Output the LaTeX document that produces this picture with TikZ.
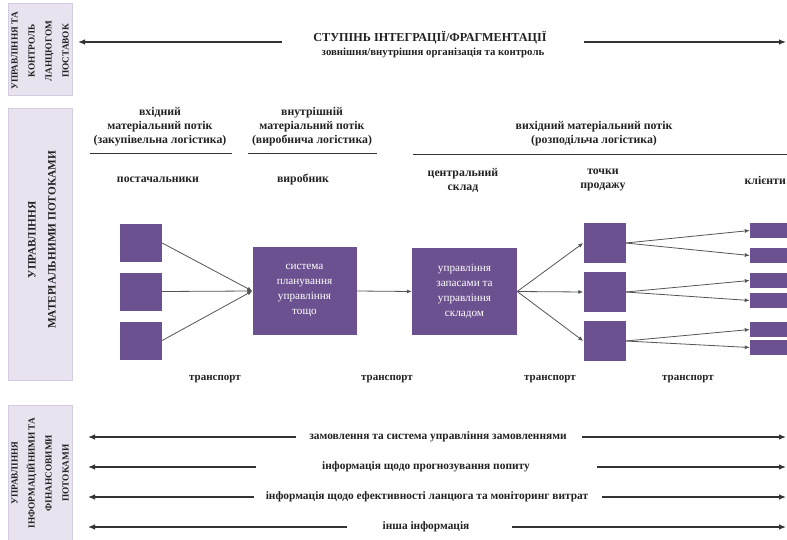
\documentclass[tikz,border=0pt]{standalone}
\usepackage{fontspec}
\setmainfont{Liberation Serif}
\usetikzlibrary{arrows.meta}
\definecolor{bandfill}{HTML}{E9E3F0}
\definecolor{banddraw}{HTML}{D6CCE2}
\definecolor{boxfill}{HTML}{6C5190}
\definecolor{txt}{HTML}{222222}
\definecolor{ln}{HTML}{333333}
\definecolor{cn}{HTML}{555555}
\tikzset{
  band/.style={fill=bandfill,draw=banddraw,line width=0.6pt},
  bandtxt/.style={rotate=90,align=center,text=txt,font=\bfseries\fontsize{9.3}{17}\selectfont,inner sep=0pt},
  lbl/.style={align=center,text=txt,font=\bfseries\fontsize{11.8}{14}\selectfont,inner sep=0pt},
  btxt/.style={align=center,text=txt,font=\bfseries\fontsize{11.4}{13}\selectfont,inner sep=0pt},
  pbox/.style={fill=boxfill,draw=none,inner sep=0pt},
  boxtxt/.style={pbox,align=center,text=white,font=\fontsize{11.2}{15}\selectfont},
  bigarr/.style={draw=ln,line width=1.2pt,-{Latex[length=7pt,width=5.5pt]}},
  conn/.style={draw=cn,line width=0.8pt,-{Latex[length=5pt,width=4pt]}},
  uline/.style={draw=ln,line width=0.9pt}
}
\begin{document}
\begin{tikzpicture}[x=1pt,y=-1pt]
\useasboundingbox[fill=white] (0,0) rectangle (787,540);
% left bands
\node[band,minimum width=64pt,minimum height=92pt,inner sep=0pt] (b1) at (40,49) {};
\node[band,minimum width=64pt,minimum height=272pt,inner sep=0pt] (b2) at (40,244) {};
\node[band,minimum width=64pt,minimum height=136pt,inner sep=0pt] (b3) at (40,473) {};
\node[bandtxt] (b1t) at (40,51) {УПРАВЛІННЯ ТА\\КОНТРОЛЬ\\ЛАНЦЮГОМ\\ПОСТАВОК};
\node[bandtxt,font=\bfseries\fontsize{11.3}{20}\selectfont] (b2t) at (42,240) {УПРАВЛІННЯ\\МАТЕРІАЛЬНИМИ ПОТОКАМИ};
\node[bandtxt] (b3t) at (40,473) {УПРАВЛІННЯ\\ІНФОРМАЦІЙНИМИ ТА\\ФІНАНСОВИМИ\\ПОТОКАМИ};
% top arrow
\coordinate (tl) at (78,42);
\coordinate (tla) at (282,42);
\coordinate (tr) at (786,42);
\coordinate (tra) at (584,42);
\draw[bigarr] (tla) -- (tl);
\draw[bigarr] (tra) -- (tr);
\node[lbl,font=\bfseries\fontsize{12.2}{14}\selectfont] (title) at (430,38) {СТУПІНЬ ІНТЕГРАЦІЇ/ФРАГМЕНТАЦІЇ};
\node[lbl,font=\bfseries\fontsize{10.8}{12}\selectfont] (sub) at (433,53) {зовнішня/внутрішня організація та контроль};
% headers
\node[lbl] (h1) at (160,127) {вхідний\\матеріальний потік\\(закупівельна логістика)};
\node[lbl] (h2) at (312,127) {внутрішній\\матеріальний потік\\(виробнича логістика)};
\node[lbl] (h3) at (594,134) {вихідний матеріальний потік\\(розподільча логістика)};
\coordinate (u1a) at (90,153); \coordinate (u1b) at (232,153);
\coordinate (u2a) at (248,153); \coordinate (u2b) at (377,153);
\coordinate (u3a) at (413,154); \coordinate (u3b) at (787,154);
\draw[uline] (u1a) -- (u1b);
\draw[uline] (u2a) -- (u2b);
\draw[uline] (u3a) -- (u3b);
% column labels
\node[lbl] (c1) at (158,180) {постачальники};
\node[lbl] (c2) at (303,180) {виробник};
\node[lbl] (c3) at (463,180) {центральний\\склад};
\node[lbl] (c4) at (603,180) {точки\\продажу};
\node[lbl,anchor=east] (c5) at (786,180) {клієнти};
% supplier boxes
\node[pbox,minimum width=42pt,minimum height=38pt] (s1) at (141,243) {};
\node[pbox,minimum width=42pt,minimum height=38pt] (s2) at (141,291.5) {};
\node[pbox,minimum width=42pt,minimum height=38pt] (s3) at (141,340.5) {};
% main boxes
\node[boxtxt,minimum width=104pt,minimum height=88pt] (m) at (304.5,291) {система\\планування\\управління\\тощо};
\node[boxtxt,minimum width=105pt,minimum height=87pt] (w) at (464.5,291.5) {управління\\запасами та\\управління\\складом};
% sales points
\node[pbox,minimum width=42pt,minimum height=40pt] (p1) at (604.5,243) {};
\node[pbox,minimum width=42pt,minimum height=40pt] (p2) at (604.5,292) {};
\node[pbox,minimum width=42pt,minimum height=40pt] (p3) at (604.5,341) {};
% clients
\node[pbox,minimum width=37pt,minimum height=15pt] (k1) at (768.5,230.5) {};
\node[pbox,minimum width=37pt,minimum height=15pt] (k2) at (768.5,255.5) {};
\node[pbox,minimum width=37pt,minimum height=15pt] (k3) at (768.5,280.5) {};
\node[pbox,minimum width=37pt,minimum height=15pt] (k4) at (768.5,300.5) {};
\node[pbox,minimum width=37pt,minimum height=15pt] (k5) at (768.5,329.5) {};
\node[pbox,minimum width=37pt,minimum height=15pt] (k6) at (768.5,347.5) {};
% connectors
\draw[conn] (s1.east) -- (m.west);
\draw[conn] (s2.east) -- (m.west);
\draw[conn] (s3.east) -- (m.west);
\draw[conn] (m.east) -- (w.west);
\draw[conn] (w.east) -- (p1.west);
\draw[conn] (w.east) -- (p2.west);
\draw[conn] (w.east) -- (p3.west);
\draw[conn] (p1.east) -- (k1.west);
\draw[conn] (p1.east) -- (k2.west);
\draw[conn] (p2.east) -- (k3.west);
\draw[conn] (p2.east) -- (k4.west);
\draw[conn] (p3.east) -- (k5.west);
\draw[conn] (p3.east) -- (k6.west);
% transport
\node[lbl,font=\bfseries\fontsize{11}{13}\selectfont] (t1) at (215,379) {транспорт};
\node[lbl,font=\bfseries\fontsize{11}{13}\selectfont] (t2) at (387,379) {транспорт};
\node[lbl,font=\bfseries\fontsize{11}{13}\selectfont] (t3) at (550,379) {транспорт};
\node[lbl,font=\bfseries\fontsize{11}{13}\selectfont] (t4) at (688,379) {транспорт};
% bottom arrows
\coordinate (l1) at (88,437); \coordinate (l1a) at (296,437);
\coordinate (r1) at (786,437); \coordinate (r1a) at (582,437);
\coordinate (l2) at (88,467); \coordinate (l2a) at (256,467);
\coordinate (r2) at (786,467); \coordinate (r2a) at (597,467);
\coordinate (l3) at (88,497); \coordinate (l3a) at (254,497);
\coordinate (r3) at (786,497); \coordinate (r3a) at (602,497);
\coordinate (l4) at (88,527); \coordinate (l4a) at (347,527);
\coordinate (r4) at (786,527); \coordinate (r4a) at (512,527);
\draw[bigarr] (l1a) -- (l1); \draw[bigarr] (r1a) -- (r1);
\draw[bigarr] (l2a) -- (l2); \draw[bigarr] (r2a) -- (r2);
\draw[bigarr] (l3a) -- (l3); \draw[bigarr] (r3a) -- (r3);
\draw[bigarr] (l4a) -- (l4); \draw[bigarr] (r4a) -- (r4);
\node[btxt] (i1) at (438,437) {замовлення та система управління замовленнями};
\node[btxt] (i2) at (426,467) {інформація щодо прогнозування попиту};
\node[btxt] (i3) at (427,497) {інформація щодо ефективності ланцюга та моніторинг витрат};
\node[btxt] (i4) at (426,527) {інша інформація};
\end{tikzpicture}
\end{document}
